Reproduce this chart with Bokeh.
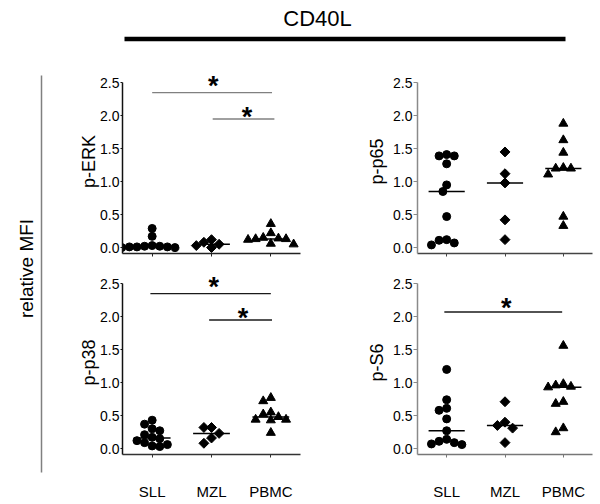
import numpy as np
from bokeh.plotting import figure
from bokeh.models import Range1d, FixedTicker, NumeralTickFormatter
from bokeh.layouts import row, column
from bokeh.embed import file_html
from bokeh.resources import INLINE
from bokeh.core.properties import value

# ---------------- data ----------------
categories = ["SLL", "MZL", "PBMC"]
y_ticks = [0.0, 0.5, 1.0, 1.5, 2.0, 2.5]

erk_sll = [0.29, 0.17, 0.03, 0.02, 0.02, 0.01, 0.01, 0.00, 0.00, 0.01]
erk_mzl = [0.12, 0.08, 0.05, 0.03, 0.00]
erk_pbmc = [0.36, 0.22, 0.15, 0.14, 0.13, 0.13, 0.12, 0.06, 0.05]

p65_sll = [1.39, 1.41, 1.39, 1.27, 0.95, 0.85, 0.47, 0.11, 0.12, 0.04, 0.07]
p65_mzl = [1.45, 1.12, 0.98, 0.42, 0.12]
p65_pbmc = [1.88, 1.63, 1.44, 1.20, 1.21, 1.20, 1.11, 0.47, 0.33]

p38_sll = [0.43, 0.37, 0.30, 0.27, 0.21, 0.17, 0.15, 0.12, 0.09, 0.06, 0.04, 0.03]
p38_mzl = [0.32, 0.32, 0.23, 0.16, 0.08]
p38_pbmc = [0.77, 0.72, 0.55, 0.52, 0.48, 0.44, 0.44, 0.43, 0.24]

s6_sll = [1.20, 0.74, 0.61, 0.58, 0.45, 0.27, 0.14, 0.11, 0.09, 0.07, 0.06]
s6_mzl = [0.71, 0.40, 0.35, 0.31, 0.09]
s6_pbmc = [1.56, 0.98, 0.96, 0.94, 0.93, 0.71, 0.68, 0.31, 0.25]

# significance bars: start, end (category position), bar height; star position
erk_sig_x0 = [1.0, 2.02]
erk_sig_x1 = [3.02, 3.06]
erk_sig_y = [2.35, 1.95]
erk_star_x = [2.03, 2.60]
erk_star_y = [2.55, 2.08]

p38_sig_x0 = [0.97, 1.96]
p38_sig_x1 = [3.0, 3.02]
p38_sig_y = [2.35, 1.95]
p38_star_x = [2.04, 2.53]
p38_star_y = [2.55, 2.08]

s6_sig_x0 = [0.96]
s6_sig_x1 = [2.98]
s6_sig_y = [2.07]
s6_star_x = [2.02]
s6_star_y = [2.23]

FONT = "Liberation Sans"
Y0, Y1 = -0.09, 2.7
FRAME_H = 184


def swarm(vals, sx, sy, d):
    """simple beeswarm: horizontal offsets (data units) so markers don't overlap"""
    order = sorted(range(len(vals)), key=lambda i: -vals[i])
    placed = []
    offs = [0.0] * len(vals)
    cands = [0]
    for k in range(1, 14):
        cands += [-k * d / 2, k * d / 2]
    for i in order:
        for ox in cands:
            ok = True
            for (px, pv) in placed:
                dx = ox - px
                dy = (vals[i] - pv) * sy
                if dx * dx + dy * dy < (0.97 * d) ** 2:
                    ok = False
                    break
            if ok:
                break
        placed.append((ox, vals[i]))
        offs[i] = ox / sx
    return offs


def panel(label, groups, sig, frame_w, mb_left, mb_right, mb_top, mb_bottom,
          bottom_labels, ycol, xcol, sigcol, label_standoff, tick_out):
    width = mb_left + frame_w + mb_right
    height = mb_top + FRAME_H + mb_bottom
    p = figure(width=width, height=height, x_range=Range1d(0.5, 3.5),
               y_range=Range1d(Y0, Y1), output_backend="svg",
               toolbar_location=None, min_border_left=mb_left,
               min_border_right=mb_right, min_border_top=mb_top,
               min_border_bottom=mb_bottom)
    p.xgrid.visible = False
    p.ygrid.visible = False
    p.outline_line_color = None
    p.background_fill_color = "white"
    p.border_fill_color = "white"

    sx = frame_w / 3.0
    sy = FRAME_H / (Y1 - Y0)

    markers = [("circle", 8, 0.0), ("square", 7, np.pi / 4), ("triangle", 9, 0.0)]
    for gi, vals in enumerate(groups):
        c = gi + 1
        offs = swarm(vals, sx, sy, 7.6)
        xs = [c + o for o in offs]
        m, s, a = markers[gi]
        p.scatter(xs, vals, marker=m, size=s, angle=a, color="black")
        med = float(np.median(vals))
        p.segment(x0=[c - 0.31], x1=[c + 0.31], y0=[med], y1=[med],
                  line_color="black", line_width=1.5)

    if sig is not None:
        x0, x1, yb, stx, sty = sig
        p.segment(x0=x0, x1=x1, y0=yb, y1=yb, line_color=sigcol, line_width=1.4)
        p.text(x=stx, y=sty, text=["*"] * len(stx), text_font=value(FONT),
               text_font_size="27px", text_font_style="bold",
               text_align="center", text_baseline="middle", y_offset=7,
               text_color="black")

    ya = p.yaxis[0]
    ya.ticker = FixedTicker(ticks=y_ticks)
    ya.formatter = NumeralTickFormatter(format="0.0")
    ya.bounds = (Y0, 2.5)
    ya.axis_label = label
    ya.axis_label_text_font = FONT
    ya.axis_label_text_font_size = "18px"
    ya.axis_label_text_font_style = "normal"
    ya.axis_label_text_color = "black"
    ya.axis_label_standoff = label_standoff
    ya.major_label_text_font = FONT
    ya.major_label_text_font_size = "14px"
    ya.major_label_text_color = "black"
    ya.major_label_standoff = 1
    ya.major_tick_out = tick_out
    ya.major_tick_in = 0
    ya.minor_tick_out = 0
    ya.minor_tick_in = 0
    ya.axis_line_color = ycol
    ya.major_tick_line_color = ycol
    ya.axis_line_width = 1.5

    xa = p.xaxis[0]
    xa.ticker = FixedTicker(ticks=[1, 2, 3])
    xa.major_tick_out = 3
    xa.major_tick_in = 0
    xa.minor_tick_out = 0
    xa.minor_tick_in = 0
    xa.axis_line_color = xcol
    xa.major_tick_line_color = xcol
    xa.axis_line_width = 1.5
    if bottom_labels:
        xa.major_label_overrides = {1: categories[0], 2: categories[1], 3: categories[2]}
        xa.major_label_text_font = FONT
        xa.major_label_text_font_size = "15px"
        xa.major_label_text_color = "black"
        xa.major_label_standoff = 25
    else:
        xa.major_label_overrides = {1: " ", 2: " ", 3: " "}
        xa.major_label_text_font_size = "1px"
        xa.major_label_standoff = 0
    return p


tl = panel("p-ERK", [erk_sll, erk_mzl, erk_pbmc],
           (erk_sig_x0, erk_sig_x1, erk_sig_y, erk_star_x, erk_star_y),
           178, 74, 10, 5, 12, False, "#111111", "#222222", "#808080", -2, 2)
tr = panel("p-p65", [p65_sll, p65_mzl, p65_pbmc], None,
           175, 107, 8, 5, 12, False, "#8a8a8a", "#444444", "#222222", 3, 4)
bl = panel("p-p38", [p38_sll, p38_mzl, p38_pbmc],
           (p38_sig_x0, p38_sig_x1, p38_sig_y, p38_star_x, p38_star_y),
           178, 74, 10, 5, 50, True, "#111111", "#333333", "#1a1a1a", -2, 2)
br = panel("p-S6", [s6_sll, s6_mzl, s6_pbmc],
           (s6_sig_x0, s6_sig_x1, s6_sig_y, s6_star_x, s6_star_y),
           175, 107, 8, 5, 50, True, "#8a8a8a", "#777777", "#1a1a1a", 3, 4)

# header (CD40L + thick bar), coordinates in page pixels
hdr = figure(width=552, height=64, x_range=Range1d(48, 600), y_range=Range1d(64, 0),
             output_backend="svg", toolbar_location=None,
             min_border_left=0, min_border_right=0, min_border_top=0, min_border_bottom=0)
hdr.axis.visible = False
hdr.grid.visible = False
hdr.outline_line_color = None
hdr.text(x=[317], y=[18], text=["CD40L"], text_font=value(FONT), text_font_size="22px",
         text_align="center", text_baseline="middle", text_color="black")
hdr.segment(x0=[124], x1=[565], y0=[38.5], y1=[38.5], line_color="black", line_width=4.5)

# left strip (relative MFI + vertical rule)
strip = figure(width=48, height=504, x_range=Range1d(0, 48), y_range=Range1d(504, 0),
               output_backend="svg", toolbar_location=None,
               min_border_left=0, min_border_right=0, min_border_top=0, min_border_bottom=0)
strip.axis.visible = False
strip.grid.visible = False
strip.outline_line_color = None
strip.text(x=[26], y=[268], text=["relative MFI"], text_font=value(FONT),
           text_font_size="19px", angle=np.pi / 2, text_align="center",
           text_baseline="middle", text_color="black")
strip.segment(x0=[41], x1=[41], y0=[75], y1=[472], line_color="#808080", line_width=1.5)

layout = row(strip, column(hdr, row(tl, tr), row(bl, br)))

open("out.html", "w").write(file_html(layout, INLINE))
